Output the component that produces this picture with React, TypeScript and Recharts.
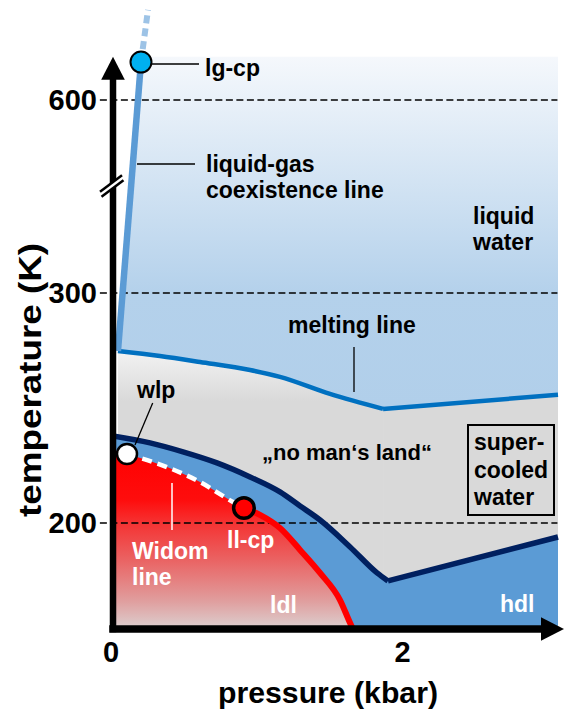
import React from 'react';
import { ComposedChart, Area, Line, XAxis, YAxis, ReferenceLine, ReferenceDot } from 'recharts';

// pressure p in kbar, temperature T in K
const meltingCurve = [
  { p: 0.034, T: 274.8 },
  { p: 0.322, T: 272.6 },
  { p: 0.597, T: 270.0 },
  { p: 0.94, T: 266.5 },
  { p: 1.145, T: 263.5 },
  { p: 1.488, T: 256.1 },
  { p: 1.852, T: 249.6 },
];
const meltingRise = [
  { p: 1.852, T: 249.6 },
  { p: 3.052, T: 255.7 },
];

const nucleationCurve = [
  { p: 0, T: 237.8 },
  { p: 0.254, T: 234.8 },
  { p: 0.48, T: 230.9 },
  { p: 0.713, T: 226.1 },
  { p: 0.94, T: 220.0 },
  { p: 1.145, T: 213.5 },
  { p: 1.283, T: 207.4 },
  { p: 1.42, T: 201.3 },
  { p: 1.626, T: 189.6 },
  { p: 1.811, T: 178.3 },
  { p: 1.886, T: 174.8 },
];
const nucleationRise = [
  { p: 1.886, T: 174.8 },
  { p: 3.052, T: 193.9 },
];

const widomLine = [
  { p: 0.096, T: 230.0 },
  { p: 0.37, T: 224.3 },
  { p: 0.597, T: 217.8 },
  { p: 0.823, T: 209.1 },
  { p: 0.898, T: 206.5 },
];

const llLine = [
  { p: 0.898, T: 206.5 },
  { p: 1.008, T: 203.5 },
  { p: 1.145, T: 197.8 },
  { p: 1.283, T: 188.3 },
  { p: 1.42, T: 178.3 },
  { p: 1.557, T: 166.5 },
  { p: 1.632, T: 155.7 },
  { p: 1.646, T: 153.9 },
];

const lgLine = [
  { p: 0.034, T: 274.8 },
  { p: 0.192, T: 659 },
];
const lgBeyond = [
  { p: 0.192, T: 659 },
  { p: 0.24, T: 740 },
];

const lgCp = { p: 0.192, T: 659 };
const wlp = { p: 0.096, T: 230.0 };
const llCp = { p: 0.898, T: 206.5 };

const LIQUID_TOP = 667;
const tempTicks = [200, 300, 600];
const pressureTicks = [0, 2];
const guideTemps = [200, 300, 600];

// broken temperature axis: above 300 K the scale is compressed
const BREAK_T = 300;
const SQUEEZE = 0.2797;
const toY = (T: number) => (T <= BREAK_T ? T : BREAK_T + (T - BREAK_T) * SQUEEZE);
const Y_MIN = 153.9;
const Y_MAX = 425.2;
const AXIS_BREAK_T = 466;

const liquidRegion = [
  { p: 0.034, lo: 274.8, hi: 274.8 },
  { p: 0.195, lo: 273.6, hi: LIQUID_TOP },
  ...[...meltingCurve.slice(1), ...meltingRise.slice(1)].map((m) => ({ p: m.p, lo: m.T, hi: LIQUID_TOP })),
];
const ldlBoundary = [{ p: 0, T: 231.7 }, ...widomLine, ...llLine.slice(1)];

const FONT = '"Liberation Sans", Arial, Helvetica, sans-serif';

const AxisArrow = (props: any) => {
  const { x1, y1, x2, y2, strokeWidth } = props;
  const dx = x2 - x1;
  const dy = y2 - y1;
  const len = Math.hypot(dx, dy) || 1;
  const ux = dx / len;
  const uy = dy / len;
  const head = 23;
  const half = 11.8;
  const bx = x2 - ux * head;
  const by = y2 - uy * head;
  return (
    <g>
      <line x1={x1} y1={y1} x2={bx} y2={by} stroke="#000" strokeWidth={strokeWidth} strokeLinecap="square" />
      <polygon
        points={`${x2},${y2} ${bx - uy * half},${by + ux * half} ${bx + uy * half},${by - ux * half}`}
        fill="#000"
      />
    </g>
  );
};

const AxisBreak = (props: any) => {
  const { cx, cy } = props;
  return (
    <g>
      <polygon
        points={`${cx - 13},${cy + 5.5} ${cx + 9},${cy - 11} ${cx + 10.5},${cy - 6} ${cx - 11.5},${cy + 10.5}`}
        fill="#fff"
      />
      <line x1={cx - 13} y1={cy + 5.5} x2={cx + 9} y2={cy - 11} stroke="#000" strokeWidth={2.5} />
      <line x1={cx - 11.5} y1={cy + 10.5} x2={cx + 10.5} y2={cy - 6} stroke="#000" strokeWidth={2.5} />
    </g>
  );
};

const YTick = (props: any) => {
  const { x, y, payload } = props;
  const t = tempTicks.find((v) => Math.abs(toY(v) - payload.value) < 0.01);
  return (
    <text x={x - 16} y={y} dy="0.36em" textAnchor="end" fontSize={29} fontWeight="bold" fontFamily={FONT} fill="#000">
      {t}
    </text>
  );
};

const XTick = (props: any) => {
  const { x, y, payload } = props;
  return (
    <text x={x - 2} y={y + 33} textAnchor="middle" fontSize={29} fontWeight="bold" fontFamily={FONT} fill="#000">
      {payload.value}
    </text>
  );
};

// labels and leader lines, laid over the chart
const Annotations = () => (
  <svg
    width={565}
    height={709}
    style={{ position: 'absolute', left: 0, top: 0, pointerEvents: 'none' }}
  >
    <g fontFamily={FONT} fontWeight="bold" fontSize={23}>
      <line x1={152} y1={64} x2={199} y2={64} stroke="#000" strokeWidth={1.5} />
      <text x={205} y={75.5} fill="#000">lg-cp</text>

      <line x1={137} y1={164} x2={195} y2={164} stroke="#000" strokeWidth={1.5} />
      <text x={206} y={172} fill="#000">liquid-gas</text>
      <text x={206} y={198} fill="#000">coexistence line</text>

      <text x={473} y={223.5} fill="#000">liquid</text>
      <text x={473} y={250} fill="#000">water</text>

      <text x={288} y={333} fill="#000">melting line</text>
      <line x1={354} y1={347} x2={354} y2={392} stroke="#000" strokeWidth={1.3} />

      <text x={137} y={398} fill="#000">wlp</text>
      <line x1={152.7} y1={403} x2={135} y2={445} stroke="#000" strokeWidth={1.3} />

      <text x={262} y={460} fill="#000" fontSize={22}>„no man‘s land“</text>

      <rect x={468} y={425} width={86} height={90} fill="none" stroke="#000" strokeWidth={2} />
      <text x={474} y={450} fill="#000">super-</text>
      <text x={474} y={478} fill="#000">cooled</text>
      <text x={474} y={505} fill="#000">water</text>

      <line x1={172} y1={483} x2={172} y2={530} stroke="#fff" strokeWidth={1.5} />
      <text x={132} y={559} fill="#fff">Widom</text>
      <text x={132} y={585} fill="#fff">line</text>
      <text x={227} y={548} fill="#fff">ll-cp</text>
      <text x={270} y={613} fill="#fff">ldl</text>
      <text x={500} y={612} fill="#fff">hdl</text>

      <text x={328} y={703} textAnchor="middle" fontSize={29} textLength={220} lengthAdjust="spacingAndGlyphs" fill="#000">
        pressure (kbar)
      </text>
      <text
        x={41}
        y={380}
        transform="rotate(-90 41 380)"
        textAnchor="middle"
        fontSize={31}
        textLength={274}
        lengthAdjust="spacingAndGlyphs"
        fill="#000"
      >
        temperature (K)
      </text>
    </g>
  </svg>
);

const App: React.FC = () => {
  const yOf = (d: any) => toY(d.T);
  const lineProps = { dataKey: yOf, dot: false, activeDot: false, isAnimationActive: false } as const;
  const areaProps = { dataKey: yOf, baseValue: Y_MIN, stroke: 'none', fillOpacity: 1, isAnimationActive: false } as const;
  return (
    <div style={{ position: 'absolute', left: 0, top: 0, width: 565, height: 709, background: '#fff' }}>
      <ComposedChart width={565} height={709} margin={{ top: 5, right: 0, bottom: 0, left: 0 }}>
        <defs>
          <linearGradient id="liquidFill" x1="0" y1="0" x2="0" y2="1">
            <stop offset="0" stopColor="#f5f8fc" />
            <stop offset="0.67" stopColor="#b4d1eb" />
            <stop offset="1" stopColor="#b1cfea" />
          </linearGradient>
          <linearGradient id="greyFill" x1="0" y1="0" x2="0" y2="1">
            <stop offset="0" stopColor="#f2f2f2" />
            <stop offset="0.18" stopColor="#d9d9d9" />
            <stop offset="1" stopColor="#d9d9d9" />
          </linearGradient>
          <linearGradient id="ldlFill" x1="0" y1="0" x2="0" y2="1">
            <stop offset="0" stopColor="#ff0000" />
            <stop offset="0.28" stopColor="#fe0d0d" />
            <stop offset="0.41" stopColor="#f53333" />
            <stop offset="0.61" stopColor="#ea6262" />
            <stop offset="0.84" stopColor="#e09d9d" />
            <stop offset="1" stopColor="#dcd0d0" />
          </linearGradient>
        </defs>

        <XAxis
          type="number"
          dataKey="p"
          domain={[0, 3.1]}
          allowDataOverflow
          ticks={pressureTicks}
          height={80}
          axisLine={false}
          tickLine={false}
          tickSize={0}
          tickMargin={0}
          tick={<XTick />}
        />
        <YAxis
          type="number"
          domain={[Y_MIN, Y_MAX]}
          allowDataOverflow
          ticks={tempTicks.map(toY)}
          width={113}
          axisLine={false}
          tickLine={false}
          tickSize={0}
          tickMargin={0}
          tick={<YTick />}
        />

        <Area
          data={liquidRegion}
          dataKey={(d: any) => [toY(d.lo), toY(d.hi)]}
          type="linear"
          stroke="none"
          fill="url(#liquidFill)"
          fillOpacity={1}
          isAnimationActive={false}
        />
        <Area data={meltingCurve} type="monotone" fill="url(#greyFill)" {...areaProps} />
        <Area data={meltingRise} type="linear" fill="#d9d9d9" {...areaProps} />
        <Area data={nucleationCurve} type="monotone" fill="#5b9bd5" {...areaProps} />
        <Area data={nucleationRise} type="linear" fill="#5b9bd5" {...areaProps} />
        <Area data={ldlBoundary} type="monotone" fill="url(#ldlFill)" {...areaProps} />

        {guideTemps.map((t) => (
          <ReferenceLine
            key={t}
            segment={[{ x: -0.09, y: toY(t) }, { x: 3.048, y: toY(t) }]}
            ifOverflow="visible"
            stroke="#000"
            strokeWidth={1.6}
            strokeDasharray="7 3.5"
          />
        ))}

        <Line data={widomLine} type="monotone" stroke="#fff" strokeWidth={4.5} strokeDasharray="10 6" {...lineProps} />
        <Line data={llLine} type="monotone" stroke="#ff0000" strokeWidth={6} {...lineProps} />
        <Line data={nucleationCurve} type="monotone" stroke="#002060" strokeWidth={5.5} {...lineProps} />
        <Line data={nucleationRise} type="linear" stroke="#002060" strokeWidth={5.5} {...lineProps} />
        <Line data={meltingCurve} type="monotone" stroke="#0070c0" strokeWidth={4.5} {...lineProps} />
        <Line data={meltingRise} type="linear" stroke="#0070c0" strokeWidth={4.5} {...lineProps} />
        <Line data={lgLine} type="linear" stroke="#5b9bd5" strokeWidth={6.5} {...lineProps} />
        <Line data={lgBeyond} type="linear" stroke="#9dc3e6" strokeWidth={6} strokeDasharray="8 5" {...lineProps} />

        <ReferenceLine
          segment={[{ x: 0, y: Y_MIN }, { x: 0, y: toY(LIQUID_TOP) }]}
          ifOverflow="visible"
          stroke="#000"
          strokeWidth={6.5}
          shape={AxisArrow}
        />
        <ReferenceLine
          segment={[{ x: 0, y: Y_MIN }, { x: 3.093, y: Y_MIN }]}
          ifOverflow="visible"
          stroke="#000"
          strokeWidth={7.5}
          shape={AxisArrow}
        />
        <ReferenceDot x={0} y={toY(AXIS_BREAK_T)} r={1} ifOverflow="visible" shape={AxisBreak} />

        <ReferenceDot x={lgCp.p} y={toY(lgCp.T)} r={10.5} fill="#00b0f0" stroke="#000" strokeWidth={2} ifOverflow="visible" />
        <ReferenceDot x={wlp.p} y={toY(wlp.T)} r={10} fill="#fff" stroke="#000" strokeWidth={2.5} ifOverflow="visible" />
        <ReferenceDot x={llCp.p} y={toY(llCp.T)} r={10.3} fill="#ff0000" stroke="#000" strokeWidth={3.5} ifOverflow="visible" />
      </ComposedChart>
      <Annotations />
    </div>
  );
};

export default App;
